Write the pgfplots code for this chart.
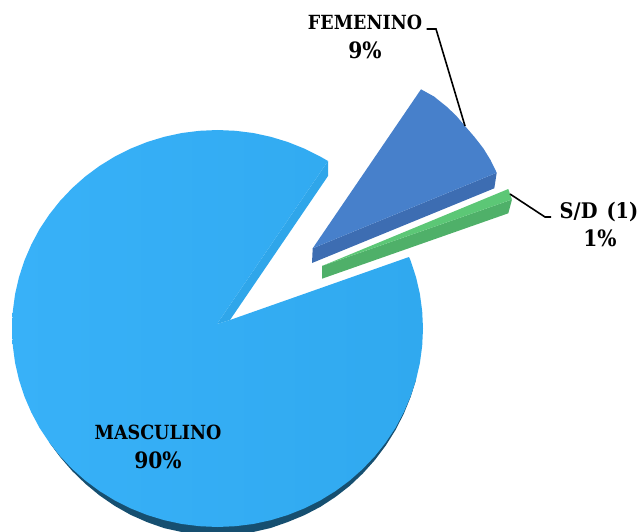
\documentclass[border=0pt]{standalone}
\usepackage{pgfplots}
\pgfplotsset{compat=1.18}
\usepackage{fontspec}
\setmainfont{DejaVu Serif Condensed}
\definecolor{mainL}{HTML}{38B1F8}
\definecolor{mainR}{HTML}{30A9EF}
\definecolor{mainWall}{HTML}{2FA6EA}
\definecolor{mainDark}{HTML}{164F70}
\definecolor{femTop}{HTML}{4780CB}
\definecolor{femWall}{HTML}{3D6DB2}
\definecolor{sdTop}{HTML}{5CC776}
\definecolor{sdWall}{HTML}{4FB069}
\tikzset{lab/.style={font=\fontsize{19.5}{24}\selectfont\bfseries, text=black, inner sep=0pt, anchor=center},
 labn/.style={font=\fontsize{22.5}{26}\selectfont\bfseries, text=black, inner sep=0pt, anchor=center}}
\begin{document}
\begin{tikzpicture}
\begin{axis}[
  scale only axis, width=642pt, height=532pt,
  xmin=0, xmax=642, ymin=0, ymax=532, y dir=reverse,
  hide axis, clip=true,
]
\path[use as bounding box] (axis cs:0,0) rectangle (axis cs:642,532);
% depth of the large slice
\addplot[fill=mainDark, draw=none] coordinates {
(49.2,442.4)(60.1,457)(72.2,471)(85.4,483.8)(99.6,495.5)(114.75,505.9)(130.7,514.9)(147.2,522.2)(164.3,528.2)(181.8,532)(199.6,534.2)(217.5,535)(235.4,534.2)(253.2,532)(270.7,528)(287.8,522)(304.3,515.2)(320.3,506.9)(335.4,497)(349.6,486)(362.8,473.5)(374.9,460)(385.8,445.5)(395.5,430)(403.7,414)(410.6,397)(416,379.9)
} -- cycle;
% inner wall of the large slice
\addplot[fill=mainWall, draw=none] coordinates {(328,161)(328,176)(230,320)(217,324)} -- cycle;
% top face of the large slice
\addplot[left color=mainL, right color=mainR, draw=none] coordinates {
(328,161)(320.3,156.6)(304.3,148.6)(287.8,142.0)(270.7,136.8)(253.2,133.0)(235.4,130.8)(217.5,130.0)(199.6,130.8)(181.8,133.0)(164.3,136.8)(147.2,142.0)(130.7,148.6)(114.75,156.6)(99.6,165.9)(85.4,176.4)(72.2,188.1)(60.1,200.9)(49.2,214.6)(39.5,229.25)(31.3,244.6)(24.4,260.6)(19.0,277.1)(15.1,294.0)(12.8,311.2)(12,328.5)(12.8,345.8)(15.1,363.0)(19.0,379.9)(24.4,396.4)(31.3,412.4)(39.5,427.75)(49.2,442.4)(60.1,456.1)(72.2,468.9)(85.4,480.6)(99.6,491.1)(114.75,500.4)(130.7,508.4)(147.2,515.0)(164.3,520.2)(181.8,524.0)(199.6,526.2)(217.5,527)(235.4,526.2)(253.2,524.0)(270.7,520.2)(287.8,515.0)(304.3,508.4)(320.3,500.4)(335.4,491.1)(349.6,480.6)(362.8,468.9)(374.9,456.1)(385.8,442.4)(395.5,427.75)(403.7,412.4)(410.6,396.4)(416.0,379.9)(419.9,363.0)(422.2,345.8)(423,328.5)(422.2,311.2)(419.9,294.0)(416.0,277.1)(410.6,260.6)(409,257)(230,320)(217,324)
} -- cycle;
% FEMENINO slice
\addplot[fill=femWall, draw=none] coordinates {(312.7,248.3)(312,263)(494.3,188.3)(496.7,172.7)} -- cycle;
\addplot[fill=femTop, draw=none] coordinates {(312.7,248.3)(421,89.3)(434,96.5)(446.7,106.7)(456,115.5)(465,126)(474.5,137)(483.3,148.3)(490.5,160)(496.7,172.7)} -- cycle;
% S/D slice
\addplot[fill=sdWall, draw=none] coordinates {(322,266)(322,278.7)(508.3,213.3)(512,199.5)} -- cycle;
\addplot[fill=sdTop, draw=none] coordinates {(322,266)(508.3,189)(512,199.5)} -- cycle;
% leader lines
\addplot[black, line width=1.6pt] coordinates {(426.5,29)(436,29)(465,126)};
\addplot[black, line width=1.6pt] coordinates {(510,194)(545,217)(551,217)};
% labels
\node[lab] at (axis cs:365,22) {FEMENINO};
\node[labn] at (axis cs:365,50) {9\%};
\node[lab] at (axis cs:599,212) {\fontsize{21.5}{24}\selectfont S/D\hspace{9pt}(1)};
\node[labn] at (axis cs:600,238) {1\%};
\node[lab] at (axis cs:158,432) {MASCULINO};
\node[labn] at (axis cs:158,460) {90\%};
\end{axis}
\end{tikzpicture}
\end{document}
